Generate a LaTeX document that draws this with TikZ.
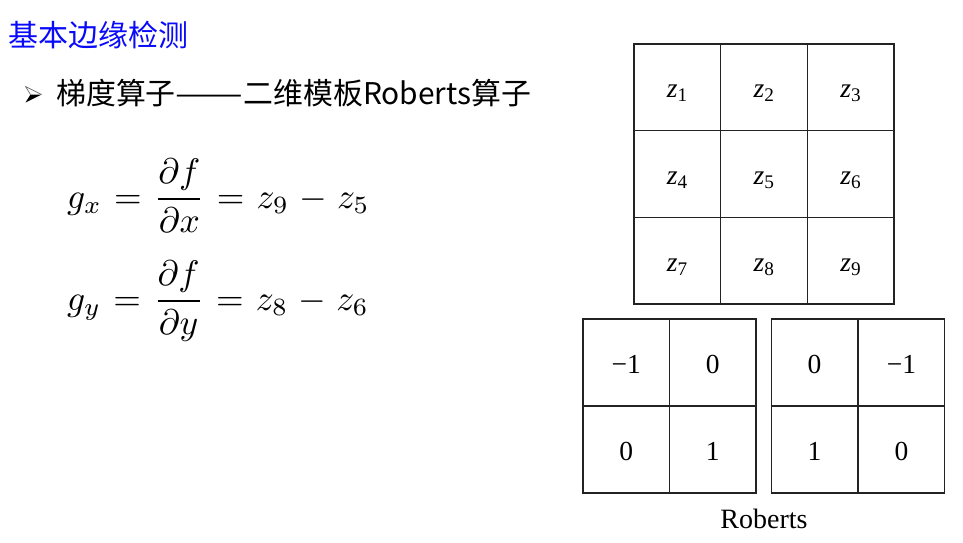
\documentclass[tikz,border=0pt]{standalone}
\usepackage{fontspec}
\newfontfamily\cjkfont{Noto Sans CJK SC}
\newfontfamily\tmsfont{Liberation Serif}
\definecolor{titleblue}{RGB}{10,10,250}
\definecolor{gridline}{RGB}{35,35,35}
\newcommand{\eqgap}{\mkern1.2mu}
\begin{document}
\begin{tikzpicture}[x=1pt,y=-1pt,
  cellbox/.style={draw=gridline, line width=1.3pt, minimum width=86.7pt, minimum height=86.7pt,
    inner sep=0pt, text height=21pt, text depth=0pt, font=\tmsfont\fontsize{27.5}{30}\selectfont},
  smallcell/.style={cellbox, minimum width=86.5pt, minimum height=87pt},
  eqn/.style={anchor=base west, inner sep=0pt},
]
\useasboundingbox (0,0) rectangle (963,543);

% title
\node[anchor=base west, inner sep=0pt, text=titleblue, font=\cjkfont\fontsize{30}{34}\selectfont] (title) at (8,47) {基本边缘检测};

% bullet marker
\coordinate (bt) at (25.5,86.5);
\coordinate (bn) at (30.5,94.5);
\coordinate (bp) at (41.5,94.5);
\coordinate (bb) at (25.5,102.5);
\fill[white] (bt) -- (bp) -- (bn) -- cycle;
\draw[black!55, line width=0.7pt, line join=round] (bn) -- (bt) -- (bp);
\fill[black] (bn) -- (bp) -- (bb) -- cycle;

% bullet line
\node[anchor=base west, inner sep=0pt, font=\cjkfont\fontsize{29.9}{34}\selectfont] (head) at (56,104) {梯度算子\scalebox{1.35}[1]{——}二维模板Roberts算子};

% equations
\node[eqn] (eqx) at (67,208) {\scalebox{3.55}{$\displaystyle g_x \eqgap=\eqgap \frac{\partial f}{\partial x} \eqgap=\eqgap z_9 \eqgap-\eqgap z_5$}};
\node[eqn] (eqy) at (67,310) {\scalebox{3.55}{$\displaystyle g_y \eqgap=\eqgap \frac{\partial f}{\partial y} \eqgap=\eqgap z_8 \eqgap-\eqgap z_6$}};

% 3x3 grid
\node[cellbox] (z1) at (677.3,87.3) {\itshape z\textsubscript{\upshape 1}};
\node[cellbox] (z2) at (764.0,87.3) {\itshape z\textsubscript{\upshape 2}};
\node[cellbox] (z3) at (850.7,87.3) {\itshape z\textsubscript{\upshape 3}};
\node[cellbox] (z4) at (677.3,174.0) {\itshape z\textsubscript{\upshape 4}};
\node[cellbox] (z5) at (764.0,174.0) {\itshape z\textsubscript{\upshape 5}};
\node[cellbox] (z6) at (850.7,174.0) {\itshape z\textsubscript{\upshape 6}};
\node[cellbox] (z7) at (677.3,260.7) {\itshape z\textsubscript{\upshape 7}};
\node[cellbox] (z8) at (764.0,260.7) {\itshape z\textsubscript{\upshape 8}};
\node[cellbox] (z9) at (850.7,260.7) {\itshape z\textsubscript{\upshape 9}};

% Roberts masks
\node[smallcell] (a11) at (626.25,362.5) {−1};
\node[smallcell] (a12) at (712.75,362.5) {0};
\node[smallcell] (a21) at (626.25,449.5) {0};
\node[smallcell] (a22) at (712.75,449.5) {1};

\node[smallcell] (b11) at (814.5,362.5) {0};
\node[smallcell] (b12) at (901.5,362.5) {−1};
\node[smallcell] (b21) at (814.5,449.5) {1};
\node[smallcell] (b22) at (901.5,449.5) {0};

\node[anchor=base, inner sep=0pt, font=\tmsfont\fontsize{28}{32}\selectfont] (roberts) at (764,528) {Roberts};
\end{tikzpicture}
\end{document}
